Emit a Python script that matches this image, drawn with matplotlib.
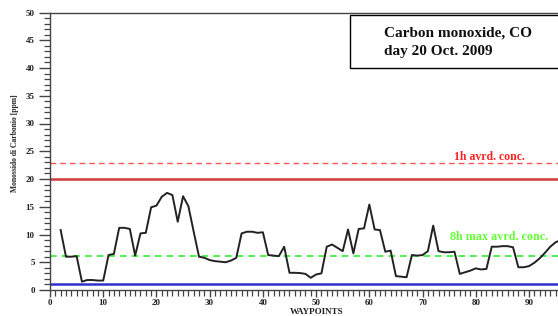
import matplotlib
matplotlib.use("Agg")
import matplotlib.pyplot as plt
from matplotlib.ticker import MultipleLocator
from matplotlib.patches import Rectangle

waypoints = list(range(2, 97))
co_ppm = [10.8, 6.0, 6.0, 6.1, 1.5, 1.8, 1.8, 1.7, 1.7, 6.3,
          6.5, 11.2, 11.2, 11.0, 6.2, 10.2, 10.3, 14.9, 15.2, 16.8,
          17.5, 17.1, 12.3, 16.9, 15.1, 10.5, 6.0, 5.8, 5.4, 5.2,
          5.1, 5.0, 5.3, 5.8, 10.2, 10.5, 10.5, 10.3, 10.4, 6.3,
          6.2, 6.1, 7.8, 3.1, 3.1, 3.05, 2.9, 2.2, 2.8, 3.0,
          7.8, 8.2, 7.6, 7.0, 10.9, 6.6, 11.0, 11.1, 15.4, 10.9,
          10.8, 6.9, 7.1, 2.5, 2.4, 2.3, 6.3, 6.2, 6.3, 7.0,
          11.6, 7.0, 6.8, 6.8, 6.9, 2.9, 3.2, 3.5, 3.9, 3.7,
          3.8, 7.8, 7.8, 7.9, 7.9, 7.7, 4.1, 4.1, 4.3, 4.9,
          5.7, 6.7, 7.8, 8.6, 9.0]

limit_1h = 22.8
limit_solid = 20.0
limit_8h = 6.1
baseline_blue = 1.0

title_lines = ["Carbon monoxide, CO", "day 20 Oct. 2009"]
label_1h = "1h avrd. conc."
label_8h = "8h max avrd. conc."
xlabel = "WAYPOINTS"
ylabel = "Monossido di Carbonio [ppm]"

serif = ["Liberation Serif", "DejaVu Serif"]

fig = plt.figure(figsize=(5.58, 3.16), dpi=100)
ax = fig.add_axes([50/558, 26/316, 508/558, 277.5/316])

ax.axhline(limit_1h, color="#ff5555", lw=1.0, ls=(0, (4, 3)), zorder=2)
ax.axhline(limit_solid, color="#d03a3a", lw=1.8, zorder=2)
ax.axhline(limit_8h, color="#33ee33", lw=1.2, ls=(0, (4, 3)), zorder=2)
ax.axhline(baseline_blue, color="#3030cc", lw=1.8, zorder=2)
ax.plot(waypoints, co_ppm, color="#222222", lw=1.4, zorder=3)

ax.set_xlim(0, 95.45)
ax.set_ylim(0, 50)

ax.xaxis.set_major_locator(MultipleLocator(10))
ax.xaxis.set_minor_locator(MultipleLocator(1))
ax.yaxis.set_major_locator(MultipleLocator(5))
ax.yaxis.set_minor_locator(MultipleLocator(1))

ax.spines["right"].set_visible(False)
for s in ["left", "bottom", "top"]:
    ax.spines[s].set_color("#444444")
    ax.spines[s].set_linewidth(1.0)

ax.tick_params(axis="y", which="major", direction="out", length=8, width=1.0,
               color="#444444", labelsize=6.5, pad=3)
ax.tick_params(axis="x", which="major", direction="out", length=5, width=1.0,
               color="#444444", labelsize=6.5, pad=1.5)
ax.tick_params(axis="both", which="minor", direction="out", length=4.5, width=0.9,
               color="#444444")
for lbl in ax.get_xticklabels() + ax.get_yticklabels():
    lbl.set_fontfamily(serif)
    lbl.set_fontweight("bold")
    lbl.set_color("#222222")

fig.text(317/558, 0.5/316, xlabel, fontfamily=serif, fontweight="bold", fontsize=6.5,
         va="bottom", ha="center", color="#222222")
ax.set_ylabel(ylabel, fontfamily=serif, fontweight="bold", fontsize=5.5,
              color="#222222")
ax.yaxis.set_label_coords(-0.062, 0.53)

ax.text(76.0, limit_1h + 0.1, label_1h, color="#ff2222", fontfamily=serif,
        fontweight="bold", fontsize=8.5, va="bottom", ha="left", zorder=4)
ax.text(75.2, 9.5, label_8h, color="#66ff33", fontfamily=serif,
        fontweight="bold", fontsize=8.7, va="center", ha="left", zorder=4)

rect = Rectangle((350/558, 1 - 68/316), 0.5, 53/316, transform=fig.transFigure,
                 facecolor="white", edgecolor="black", lw=1.0, zorder=5)
fig.patches.append(rect)
fig.text(384/558, 1 - 33/316, title_lines[0], fontfamily=serif, fontweight="bold",
         fontsize=11, va="center", ha="left", color="#111111", zorder=6)
fig.text(384/558, 1 - 51/316, title_lines[1], fontfamily=serif, fontweight="bold",
         fontsize=11, va="center", ha="left", color="#111111", zorder=6)

fig.savefig("out.png", dpi=100)
